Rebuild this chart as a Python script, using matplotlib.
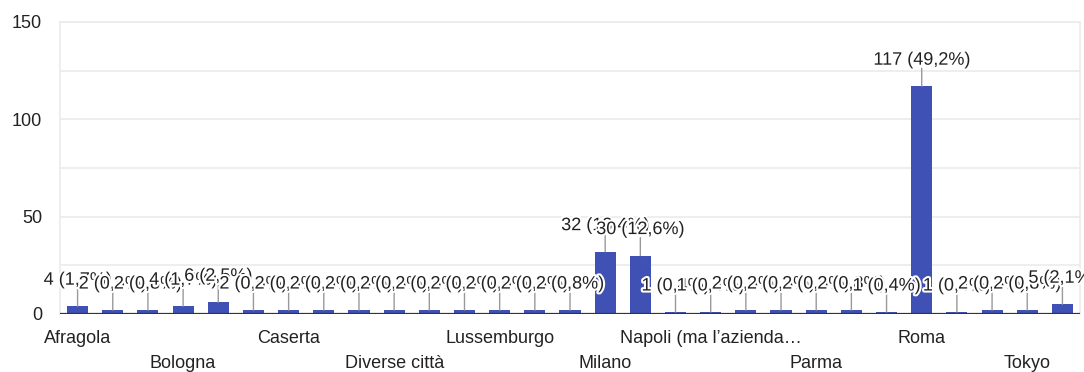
import matplotlib
matplotlib.use("Agg")
import matplotlib.pyplot as plt
import matplotlib.patheffects as pe
from matplotlib.transforms import blended_transform_factory

# Responses per city (29 categories, alphabetical); only every third name is printed
categories = [
    "Afragola", "", "", "Bologna", "", "", "Caserta", "", "", "Diverse città",
    "", "", "Lussemburgo", "", "", "Milano", "", "", "Napoli (ma l’azienda…",
    "", "", "Parma", "", "", "Roma", "", "", "Tokyo", "",
]
values = [4, 2, 2, 4, 6, 2, 2, 2, 2, 2, 2, 2, 2, 2, 2,
          32, 30, 1, 1, 2, 2, 2, 2, 1, 117, 1, 2, 2, 5]
y_ticks = [0, 50, 100, 150]
y_grid = [25, 75, 125]

BAR = "#3f51b5"
TEXT = "#222222"
GRID = "#ebebeb"

plt.rcParams["font.family"] = ["Liberation Sans", "DejaVu Sans"]

fig = plt.figure(figsize=(10.84, 3.72), dpi=100)
ax = fig.add_axes([60 / 1084, (372 - 314) / 372, 1020 / 1084, 292 / 372])

x = list(range(len(values)))
ax.bar(x, values, width=0.6, color=BAR, zorder=2)

ax.set_xlim(-0.5, len(values) - 0.5)
ax.set_ylim(0, 150)

# grid
for g in y_ticks[1:] + y_grid:
    ax.axhline(g, color=GRID, lw=1.2, zorder=0)
ax.axhline(0, color="#333333", lw=1.6, zorder=3)
for side in ("left", "right", "top"):
    ax.spines[side].set_color(GRID)
    ax.spines[side].set_linewidth(1.2)
ax.spines["bottom"].set_visible(False)

ax.set_yticks(y_ticks)
ax.set_yticklabels([str(t) for t in y_ticks], fontsize=13, color=TEXT)
ax.tick_params(axis="y", length=0, pad=13)
ax.set_xticks([])

# category names on two staggered rows
tr = blended_transform_factory(ax.transData, ax.transAxes)
shown = [i for i, c in enumerate(categories) if c]
for k, i in enumerate(shown):
    dy = -21 if k % 2 == 0 else -39
    ax.annotate(categories[i], xy=(i, 0), xycoords=tr, xytext=(0, dy),
                textcoords="offset points", ha="center", va="baseline",
                fontsize=13, color=TEXT, annotation_clip=False)

# value annotations with stems
total = sum(values)
halo = [pe.withStroke(linewidth=3, foreground="white")]
for i, v in enumerate(values):
    pct = f"{100 * v / total:.1f}".replace(".", ",")
    label = f"{v} ({pct}%)"
    ax.annotate("", xy=(i, v), xytext=(0, 13), textcoords="offset points",
                arrowprops=dict(arrowstyle="-", color="#999999", lw=1.0,
                                shrinkA=0, shrinkB=0),
                zorder=4 + 2 * i, annotation_clip=False)
    ax.annotate(label, xy=(i, v), xytext=(0, 15.5), textcoords="offset points",
                ha="center", va="baseline", fontsize=13, color=TEXT,
                path_effects=halo, zorder=5 + 2 * i, annotation_clip=False)

fig.savefig("out.png", dpi=100)
